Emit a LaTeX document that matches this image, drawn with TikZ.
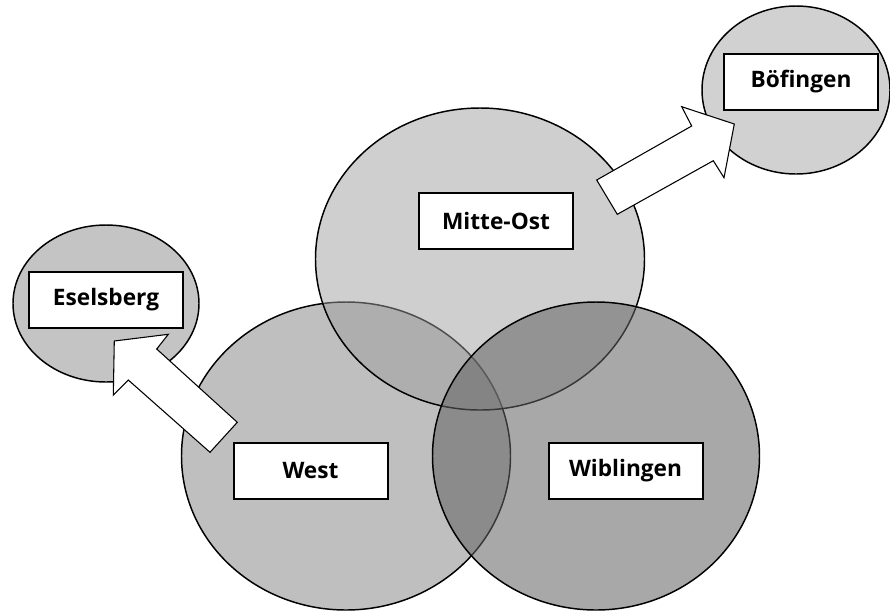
\documentclass[tikz,border=0pt]{standalone}
\usepackage{fontspec}
\setmainfont{Open Sans}
\begin{document}
\begin{tikzpicture}[x=0.75pt,y=-0.75pt,
    district/.style={draw=black,line width=1.1pt},
    namebox/.style={draw=black,line width=1.5pt,fill=white,minimum width=115.5pt,
      minimum height=42pt,inner sep=0pt,font=\bfseries\fontsize{17}{20}\selectfont},
    blockarrow/.style={draw=black,line width=0.8pt,fill=white,line join=miter}]
  \useasboundingbox (0,0) rectangle (890,612);
  % districts, drawn one over the other
  \coordinate (westc) at (346,456);
  \coordinate (mittec) at (480,259);
  \coordinate (wiblc) at (596,456);
  \coordinate (eselc) at (106,303.5);
  \coordinate (boefc) at (796,90);
  \draw[district,fill=black!25] (westc) ellipse [x radius=164.5,y radius=154];
  \draw[district,fill=black!38,fill opacity=0.49] (mittec) ellipse [x radius=164.5,y radius=151];
  \draw[district,fill=black!61,fill opacity=0.556] (wiblc) ellipse [x radius=163.5,y radius=154];
  \draw[district,fill=black!23] (eselc) ellipse [x radius=93,y radius=78.5];
  \draw[district,fill=black!18] (boefc) ellipse [x radius=94,y radius=84];
  % moves out of the centre
  \draw[blockarrow] (114.3,341) -- (168.3,334.3) -- (156.7,349) -- (237.3,422.3)
    -- (210,452.3) -- (128.3,380) -- (113.3,395) -- cycle;
  \draw[blockarrow] (734.3,124) -- (681.7,106.7) -- (691.7,126) -- (596.7,180)
    -- (617.3,214.3) -- (713.3,160.7) -- (724,177.7) -- cycle;
  % names
  \node[namebox] (esel) at (106,300) {Eselsberg};
  \node[namebox] (boef) at (801,81.5) {Böfingen};
  \node[namebox] (mitte) at (496,220.5) {Mitte-Ost};
  \node[namebox] (west) at (310.5,470.5) {West};
  \node[namebox] (wibl) at (625.5,470.5) {Wiblingen};
\end{tikzpicture}
\end{document}
